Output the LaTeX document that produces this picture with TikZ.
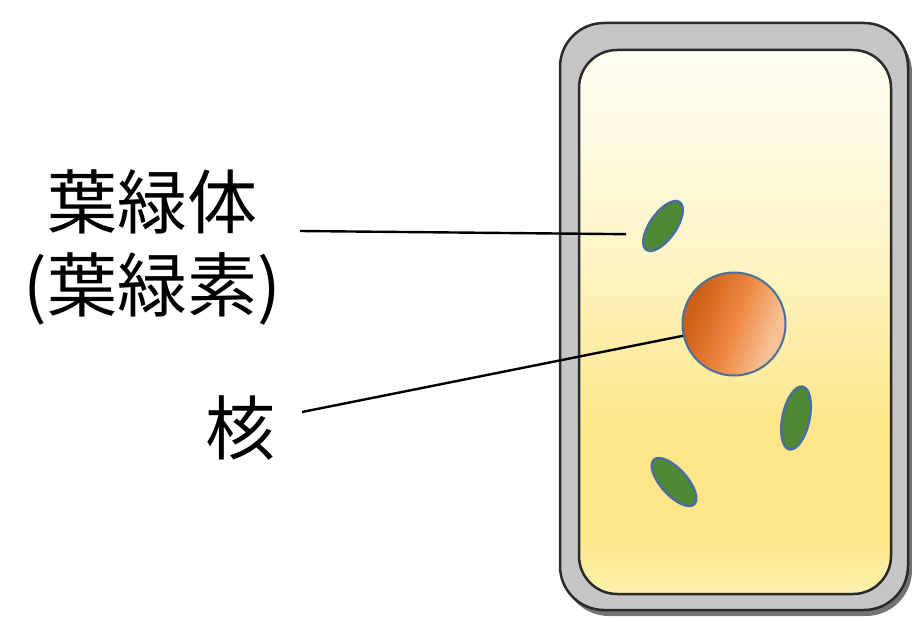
\documentclass[tikz,border=0pt]{standalone}
\usepackage{fontspec}
\setmainfont{Noto Sans CJK JP}
\usetikzlibrary{shadings,shapes.geometric}
\definecolor{wallgray}{HTML}{C6C6C6}
\definecolor{wallline}{HTML}{2A2A2A}
\definecolor{cytotop}{HTML}{FFFEF4}
\definecolor{cytomid}{HTML}{FFF6CC}
\definecolor{cytolow}{HTML}{FDE78A}
\definecolor{cytobot}{HTML}{FFF2B0}
\definecolor{chlorogreen}{HTML}{4E8A33}
\definecolor{rimblue}{HTML}{4A6E9E}
\definecolor{nucdark}{HTML}{CC5E15}
\definecolor{nucmid}{HTML}{EE8740}
\definecolor{nuclight}{HTML}{F8C195}
% only the band 25bp..75bp of a shading covers the shaded path
\pgfdeclareverticalshading{cytoplasm}{100bp}{
  color(0bp)=(cytobot); color(25bp)=(cytobot); color(30bp)=(cytolow);
  color(40bp)=(cytolow); color(58bp)=(cytomid); color(75bp)=(cytotop);
  color(100bp)=(cytotop)}
\pgfdeclarehorizontalshading{nucleusshade}{100bp}{
  color(0bp)=(nucdark); color(28bp)=(nucdark); color(50bp)=(nucmid);
  color(70bp)=(nuclight); color(100bp)=(nuclight)}
\tikzset{
  label text/.style={font=\fontsize{70}{83}\selectfont, inner sep=0pt, align=center},
  leader/.style={line width=2.4pt, black},
  chloroplast/.style={ellipse, fill=chlorogreen, draw=rimblue, line width=2.5pt,
    minimum width=58pt, minimum height=26pt, inner sep=0pt},
}
\begin{document}
\begin{tikzpicture}[x=1pt,y=-1pt]
  \useasboundingbox (0,0) rectangle (912,618);
  % cell wall with a soft shadow
  \fill[black!55, rounded corners=46pt] (563,27) rectangle (912,616);
  \draw[wallline, fill=wallgray, line width=2.5pt, rounded corners=44pt]
    (560,23) rectangle (908,610);
  % cytoplasm
  \shade[shading=cytoplasm, rounded corners=38pt] (579,50) rectangle (891,594);
  \draw[wallline, line width=2.5pt, rounded corners=38pt] (579,50) rectangle (891,594);
  % organelles
  \node[chloroplast, rotate=55] (cp1) at (663,226) {};
  \node[chloroplast, rotate=78, minimum width=64pt, minimum height=27pt] (cp2) at (796,418) {};
  \node[chloroplast, rotate=-48, minimum width=60pt] (cp3) at (674,482) {};
  \node[circle, minimum size=103pt, inner sep=0pt, draw=rimblue, line width=2pt,
        shading=nucleusshade, shading angle=-20] (nuc) at (734,324) {};
  % labels
  \node[label text] (lchl) at (152,247) {葉緑体\\(葉緑素)};
  \node[label text] (lnuc) at (240,428) {核};
  \coordinate (lchlend) at (300,231);
  \coordinate (lnucend) at (302,412);
  \draw[leader] (lchlend) -- (cp1.south -| 626,231);
  \draw[leader] (lnucend) -- (nuc.193);
\end{tikzpicture}
\end{document}
